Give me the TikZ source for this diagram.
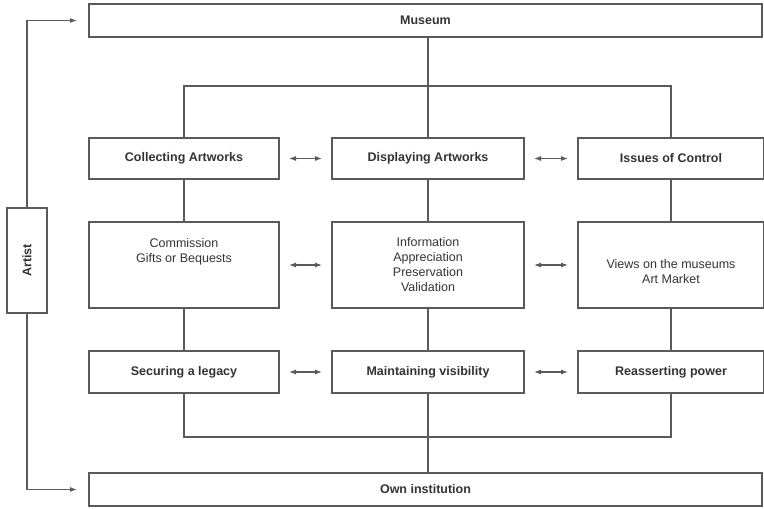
\documentclass[tikz,border=0pt]{standalone}
\usepackage{fontspec}
\setmainfont{Liberation Sans}
\usetikzlibrary{positioning,calc,arrows.meta}
\definecolor{linegray}{HTML}{5A5A5A}
\definecolor{txtgray}{HTML}{333333}
\tikzset{>={Latex[length=7pt,width=5pt]},
  box/.style={draw=linegray,line width=1.2pt,rectangle,inner sep=0pt,outer sep=0pt,
    text=txtgray,font=\fontsize{12.5}{15}\selectfont,align=center},
  head/.style={box,font=\bfseries\fontsize{12.5}{15}\selectfont},
  link/.style={draw=linegray,line width=1.2pt},
  twoway/.style={link,<->,line width=1.1pt}}
\newcommand*{\lift}[2]{\raisebox{#1}[\height][\depth]{\begin{tabular}{@{}c@{}}#2\end{tabular}}}

\begin{document}
\begin{tikzpicture}[x=1pt,y=-1pt]
\useasboundingbox (0,0) rectangle (764,509);
% top and bottom
\node[head,minimum width=673,minimum height=33] (museum) at (425.5,20.5) {Museum};
\node[head,minimum width=673,minimum height=33] (own) at (425.5,489.5) {Own institution};
% row one
\node[head,minimum width=190,minimum height=41] (coll) at (184,158.5) {Collecting Artworks};
\node[head,minimum width=192,minimum height=41] (disp) at (428,158.5) {Displaying Artworks};
\node[head,minimum width=186,minimum height=41] (ctrl) at (671,158.5) {Issues of Control};
% row two
\node[box,minimum width=190,minimum height=86] (gifts) at (184,265) {\lift{13pt}{Commission\\Gifts or Bequests}};
\node[box,minimum width=192,minimum height=86] (info) at (428,265) {Information\\Appreciation\\Preservation\\Validation};
\node[box,minimum width=186,minimum height=86] (views) at (671,265) {\lift{-8pt}{Views on the museums\\Art Market}};
% row three
\node[head,minimum width=190,minimum height=42] (legacy) at (184,372) {Securing a legacy};
\node[head,minimum width=192,minimum height=42] (visib) at (428,372) {Maintaining visibility};
\node[head,minimum width=186,minimum height=42] (power) at (671,372) {Reasserting power};
% artist
\node[head,rotate=90,minimum width=105,minimum height=40] (artist) at (27,260.5) {Artist};
\coordinate (topbus) at (0,86);
\coordinate (lowbus) at (0,437);
\draw[link] (museum.south -| disp.north) -- (disp.north);
\draw[link] (coll.north) -- (coll.north |- topbus) -- (ctrl.north |- topbus) -- (ctrl.north);
\draw[link] (legacy.south) -- (legacy.south |- lowbus) -- (power.south |- lowbus) -- (power.south);
\draw[link] (visib.south) -- (own.north -| visib.south);
\foreach \a/\b in {coll/gifts,disp/info,ctrl/views,gifts/legacy,info/visib,views/power}
  \draw[link] (\a.south) -- (\b.north);
% two-way arrows
\foreach \a/\b in {coll/disp,disp/ctrl,gifts/info,info/views,legacy/visib,visib/power}
  \draw[twoway] ($(\a.east)+(10,0)$) -- ($(\b.west)+(-10,0)$);
% artist feeds both ends
\draw[link,->] (artist.east) |- ($(museum.west)+(-12,0)$);
\draw[link,->] (artist.west) |- ($(own.west)+(-12,0)$);
\end{tikzpicture}
\end{document}
